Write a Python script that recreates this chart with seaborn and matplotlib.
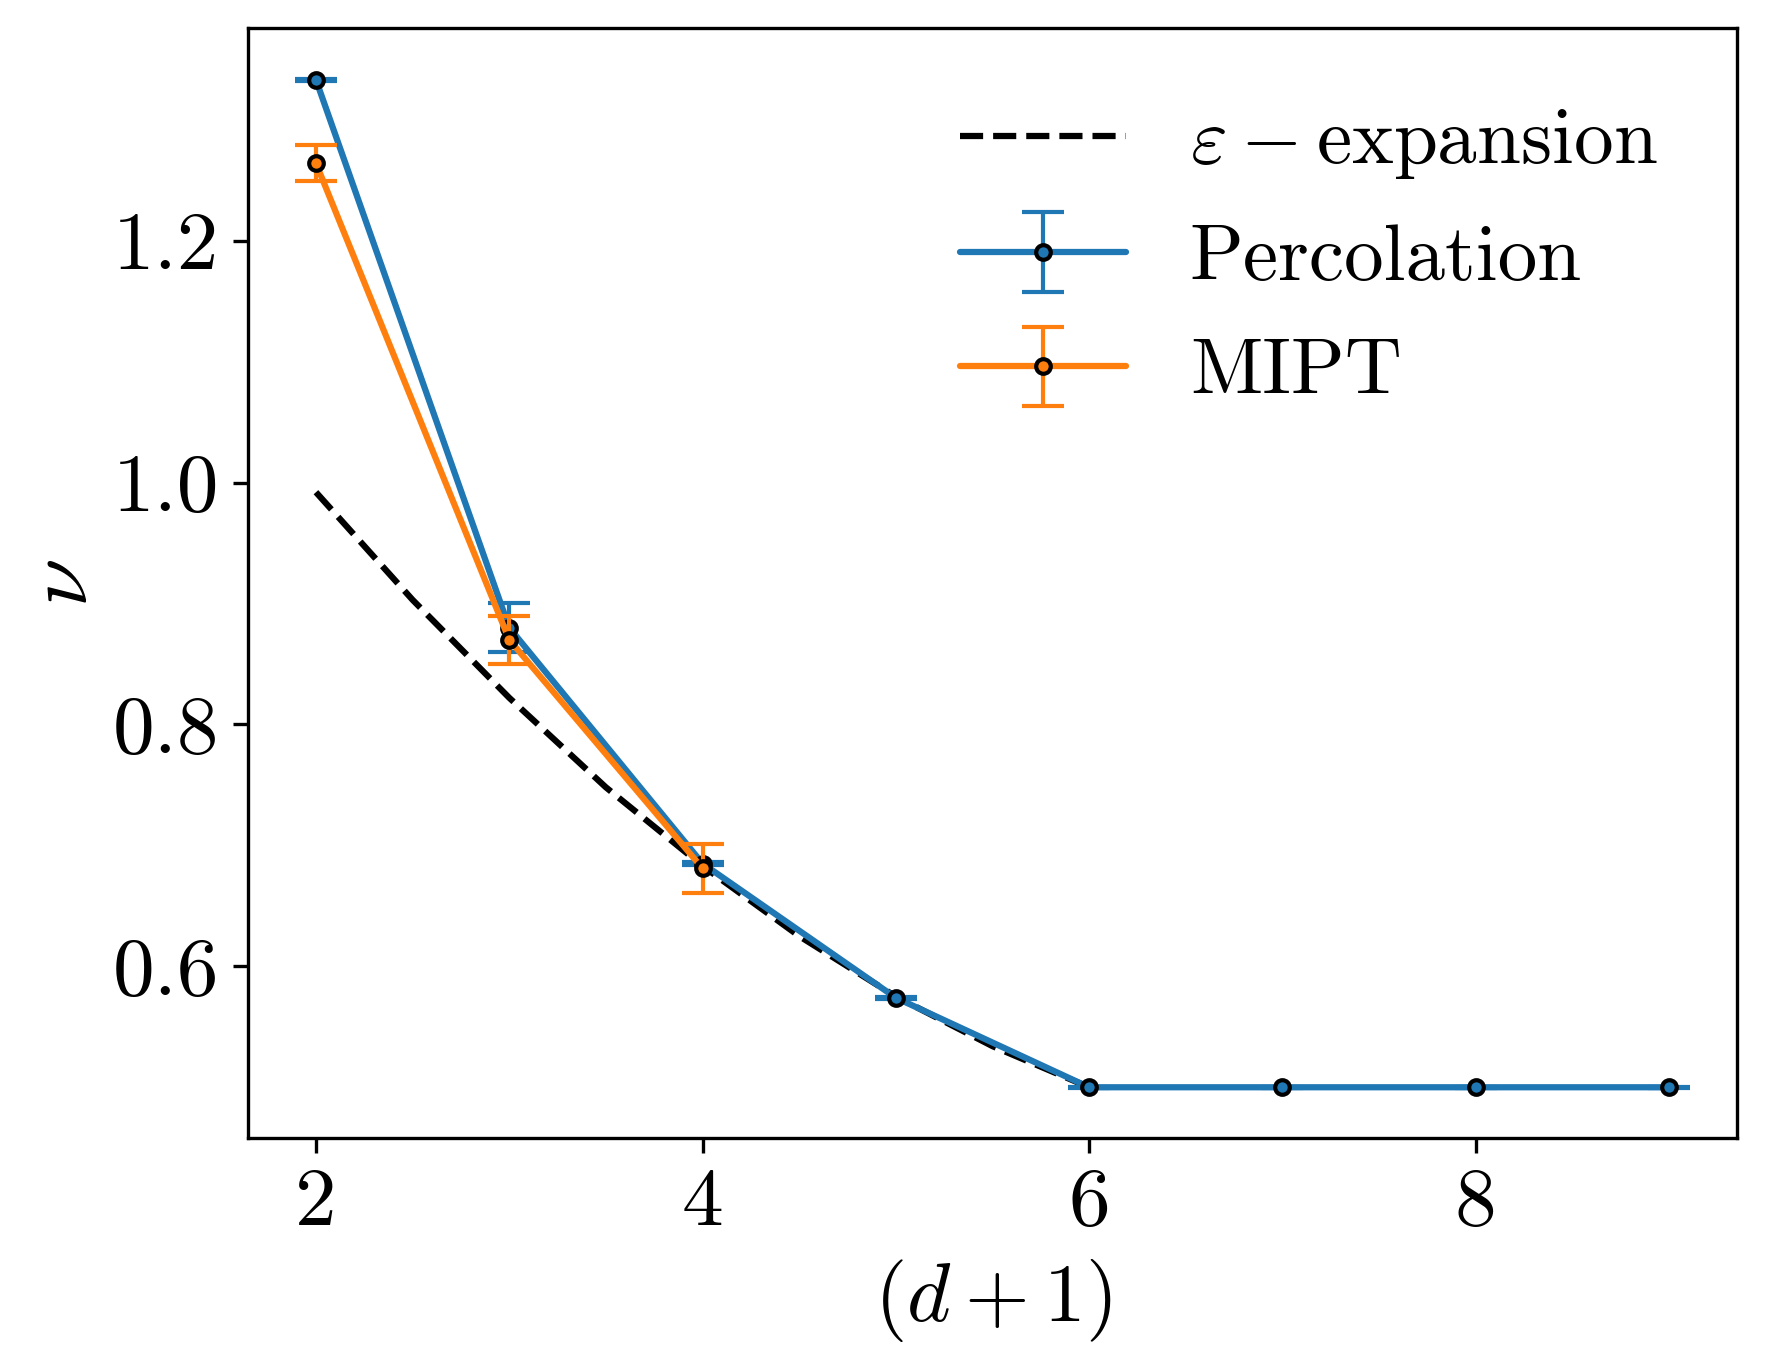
import matplotlib
matplotlib.use("Agg")
import matplotlib.pyplot as plt
import seaborn as sns
import pandas as pd

# ---- data ----
dims = [2, 3, 4, 5, 6, 7, 8, 9]
perc_nu = [1.333, 0.880, 0.685, 0.574, 0.5, 0.5, 0.5, 0.5]
perc_err = [0.001, 0.020, 0.0015, 0.001, 0.0005, 0.0005, 0.0005, 0.0005]

mipt_dims = [2, 3, 4]
mipt_nu = [1.264, 0.870, 0.681]
mipt_err = [0.015, 0.020, 0.020]

eps_dims = [2.0, 2.5, 3.0, 3.5, 4.0, 4.5, 5.0, 5.5, 6.0]
eps_nu = [0.992, 0.903, 0.822, 0.748, 0.683, 0.625, 0.575, 0.534, 0.500]

labels = [r"$\varepsilon - \mathrm{expansion}$", "Percolation", "MIPT"]
xlabel = r"$(d+1)$"
ylabel = r"$\nu$"

# ---- style ----
sns.set_style("ticks")
plt.rcParams.update({
    "font.family": ["serif"],
    "font.serif": ["cmr10", "DejaVu Serif"],
    "mathtext.fontset": "cm",
    "axes.formatter.use_mathtext": True,
    "axes.unicode_minus": False,
    "font.size": 20,
    "axes.linewidth": 0.8,
    "xtick.major.width": 0.8,
    "ytick.major.width": 0.8,
    "xtick.major.size": 3.5,
    "ytick.major.size": 3.5,
    "axes.edgecolor": "black",
    "xtick.color": "black",
    "ytick.color": "black",
    "text.color": "black",
    "axes.labelcolor": "black",
})

pal = sns.color_palette("tab10")

fig = plt.figure(figsize=(1766 / 300, 1371 / 300), dpi=300)
ax = fig.add_axes([0.1406, 0.1697, 0.8428, 0.8098])

eps_df = pd.DataFrame({"d": eps_dims, "nu": eps_nu})
sns.lineplot(data=eps_df, x="d", y="nu", ax=ax, color="black",
             linestyle="--", linewidth=1.5, label=labels[0], zorder=2)

ax.errorbar(dims, perc_nu, yerr=perc_err, color=pal[0], linewidth=1.5,
            elinewidth=1.0, capsize=5, capthick=1.0, marker="o",
            markersize=3.5, markeredgecolor="black", markeredgewidth=1.0,
            markerfacecolor=pal[0], label=labels[1], zorder=3)
ax.errorbar(mipt_dims, mipt_nu, yerr=mipt_err, color=pal[1], linewidth=1.5,
            elinewidth=1.0, capsize=5, capthick=1.0, marker="o",
            markersize=3.5, markeredgecolor="black", markeredgewidth=1.0,
            markerfacecolor=pal[1], label=labels[2], zorder=4)

ax.margins(x=0.05, y=0.05)
ax.set_xticks([2, 4, 6, 8])
ax.set_yticks([0.6, 0.8, 1.0, 1.2])
ax.set_xticklabels(["2", "4", "6", "8"])
ax.set_yticklabels(["0.6", "0.8", "1.0", "1.2"])
ax.tick_params(labelsize=20, colors="black")
ax.set_xlabel(xlabel, fontsize=20, color="black")
ax.set_ylabel(ylabel, fontsize=21, color="black", labelpad=2)
for s in ax.spines.values():
    s.set_visible(True)
    s.set_linewidth(0.8)
    s.set_color("black")

leg = ax.legend(loc="upper right", frameon=False, fontsize=19,
                handlelength=2.1, labelspacing=0.54, borderaxespad=0.6)
for t in leg.get_texts():
    t.set_color("black")

fig.savefig("out.png", dpi=300)
